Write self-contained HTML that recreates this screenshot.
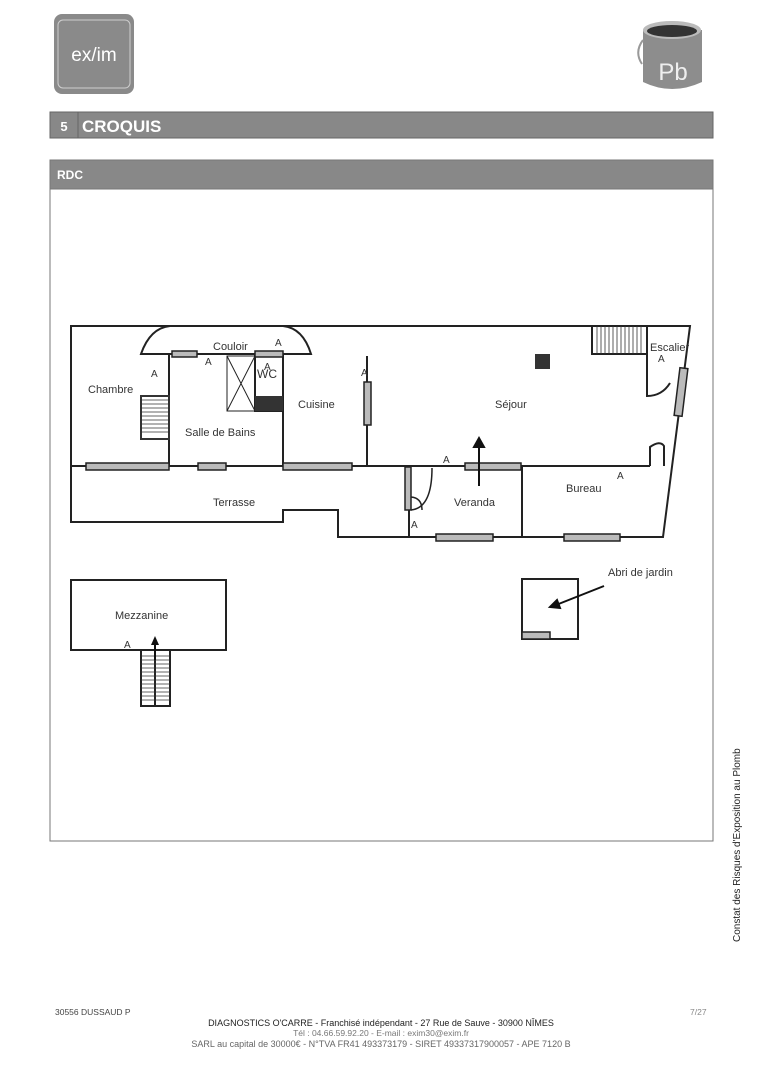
<!DOCTYPE html>
<html><head><meta charset="utf-8">
<style>
body{margin:0;background:#fff;}
svg{display:block;font-family:"Liberation Sans",sans-serif;}
</style></head><body>
<svg width="763" height="1080" viewBox="0 0 763 1080" xmlns="http://www.w3.org/2000/svg">
<!-- logo -->
<rect x="54" y="14" width="80" height="80" rx="8" fill="#8a8a8a"/>
<rect x="58" y="20" width="72" height="68" rx="5" fill="none" stroke="#cfcfcf" stroke-width="1"/>
<text x="94" y="61" font-size="19" fill="#fff" text-anchor="middle">ex/im</text>
<!-- Pb can -->
<path d="M643 30 L643 82 Q672 96 702 82 L702 30 Z" fill="#8d8d8d"/>
<ellipse cx="672" cy="30" rx="29" ry="9" fill="#bbb"/>
<ellipse cx="672" cy="31" rx="25" ry="6" fill="#333"/>
<path d="M643 40 Q634 52 642 64" fill="none" stroke="#999" stroke-width="2"/>
<text x="673" y="80" font-size="24" fill="#eee" text-anchor="middle">Pb</text>
<!-- section bar -->
<rect x="50" y="112" width="663" height="26" fill="#888" stroke="#666"/>
<line x1="78" y1="112" x2="78" y2="138" stroke="#666"/>
<text x="64" y="131" font-size="13" font-weight="bold" fill="#fff" text-anchor="middle">5</text>
<text x="82" y="132" font-size="17" font-weight="bold" fill="#fff">CROQUIS</text>
<!-- RDC -->
<rect x="50" y="160" width="663" height="681" fill="#fff" stroke="#777"/>
<rect x="50" y="160" width="663" height="29" fill="#888" stroke="#777"/>
<text x="57" y="179" font-size="12" font-weight="bold" fill="#fff">RDC</text>

<g stroke="#222" stroke-width="2" fill="none">
<path d="M71 326 L690 326 L663 537 L338 537 L338 510 L283 510 L283 522 L71 522 Z"/>
<line x1="71" y1="466" x2="650" y2="466"/>
<path d="M141 354 Q150 328 170 326 L283 326 Q303 328 311 354 Z" fill="#fff"/>
<line x1="169" y1="354" x2="169" y2="466"/>
<line x1="283" y1="354" x2="283" y2="466"/>
<line x1="367" y1="356" x2="367" y2="466"/>
<line x1="409" y1="466" x2="409" y2="537"/>
<line x1="522" y1="466" x2="522" y2="537"/>
<path d="M227 356 L255 356 L255 411 L227 411 Z M227 356 L255 411 M255 356 L227 411" stroke-width="1"/>
<rect x="255" y="356" width="28" height="55"/>
<rect x="592" y="326" width="55" height="28"/>
<path d="M647 354 L647 396 Q662 396 670 383"/>
<path d="M650 466 L650 447 Q660 440 664 446 L664 466"/>
<path d="M411 510 Q432 508 432 468" stroke-width="1.5"/>
<path d="M411 497 Q422 498 422 510" stroke-width="1.5"/>
<rect x="71" y="580" width="155" height="70"/>
<rect x="141" y="650" width="29" height="56"/>
<line x1="155" y1="650" x2="155" y2="706"/>
<rect x="522" y="579" width="56" height="60"/>
</g>
<g stroke="#333" stroke-width="0.8">
<rect x="141" y="396" width="28" height="43" fill="#fff" stroke-width="2"/>
<path d="M141 400h28M141 404h28M141 408h28M141 412h28M141 416h28M141 420h28M141 424h28M141 428h28M141 432h28"/>
<path d="M597 326v28M601 326v28M605 326v28M609 326v28M613 326v28M617 326v28M621 326v28M625 326v28M629 326v28M633 326v28M637 326v28M641 326v28"/>
<path d="M141 656h29M141 660h29M141 664h29M141 668h29M141 672h29M141 676h29M141 680h29M141 684h29M141 688h29M141 692h29M141 696h29M141 700h29"/>
</g>
<rect x="255" y="396" width="28" height="15" fill="#333"/>
<rect x="535" y="354" width="15" height="15" fill="#333"/>
<g fill="#bbb" stroke="#222" stroke-width="1.5">
<rect x="86" y="463" width="83" height="7"/>
<rect x="198" y="463" width="28" height="7"/>
<rect x="283" y="463" width="69" height="7"/>
<rect x="465" y="463" width="56" height="7"/>
<rect x="436" y="534" width="57" height="7"/>
<rect x="564" y="534" width="56" height="7"/>
<rect x="172" y="351" width="25" height="6"/>
<rect x="255" y="351" width="28" height="6"/>
<rect x="364" y="382" width="7" height="43"/>
<rect x="405" y="467" width="6" height="43"/>
<rect x="677" y="368" width="8" height="48" transform="rotate(7 681 392)"/>
<rect x="522" y="632" width="28" height="7"/>
</g>
<g stroke="#111" stroke-width="2" fill="#111">
<line x1="479" y1="486" x2="479" y2="446"/>
<path d="M474 447 L479 438 L484 447 Z"/>
<line x1="155" y1="660" x2="155" y2="644"/>
<path d="M151 645 L155 636 L159 645 Z" stroke="none"/>
<line x1="604" y1="586" x2="556" y2="605"/>
<path d="M550 607 L557 600 L560 608 Z"/>
</g>
<g font-size="11" fill="#333">
<text x="213" y="350">Couloir</text>
<text x="88" y="393">Chambre</text>
<text x="185" y="436">Salle de Bains</text>
<text x="298" y="408">Cuisine</text>
<text x="495" y="408">Séjour</text>
<text x="213" y="506">Terrasse</text>
<text x="454" y="506">Veranda</text>
<text x="566" y="492">Bureau</text>
<text x="650" y="351">Escalier</text>
<text x="115" y="619">Mezzanine</text>
<text x="608" y="576">Abri de jardin</text>
<text x="257" y="378" font-size="12">WC</text>
</g>
<g font-size="10" fill="#333">
<text x="151" y="377">A</text><text x="205" y="365">A</text><text x="275" y="346">A</text>
<text x="264" y="370">A</text><text x="361" y="376">A</text><text x="443" y="463">A</text>
<text x="617" y="479">A</text><text x="658" y="362">A</text><text x="411" y="528">A</text>
<text x="124" y="648">A</text>
</g>
<text transform="translate(740 942) rotate(-90)" font-size="10" fill="#222">Constat des Risques d'Exposition au Plomb</text>
<g font-size="9" fill="#444">
<text x="55" y="1015" font-size="8.5">30556 DUSSAUD   P</text>
<text x="690" y="1015" fill="#888" font-size="8.5">7/27</text>
<text x="381" y="1026" text-anchor="middle" fill="#222">DIAGNOSTICS O'CARRE   - Franchisé indépendant -  27 Rue de Sauve  - 30900 NÎMES</text>
<text x="381" y="1036" text-anchor="middle" fill="#777" font-size="8.5">Tél : 04.66.59.92.20  - E-mail : exim30@exim.fr</text>
<text x="381" y="1047" text-anchor="middle" fill="#666">SARL  au capital de 30000€  - N°TVA FR41 493373179  - SIRET 49337317900057  - APE 7120 B</text>
</g>
</svg>
</body></html>
